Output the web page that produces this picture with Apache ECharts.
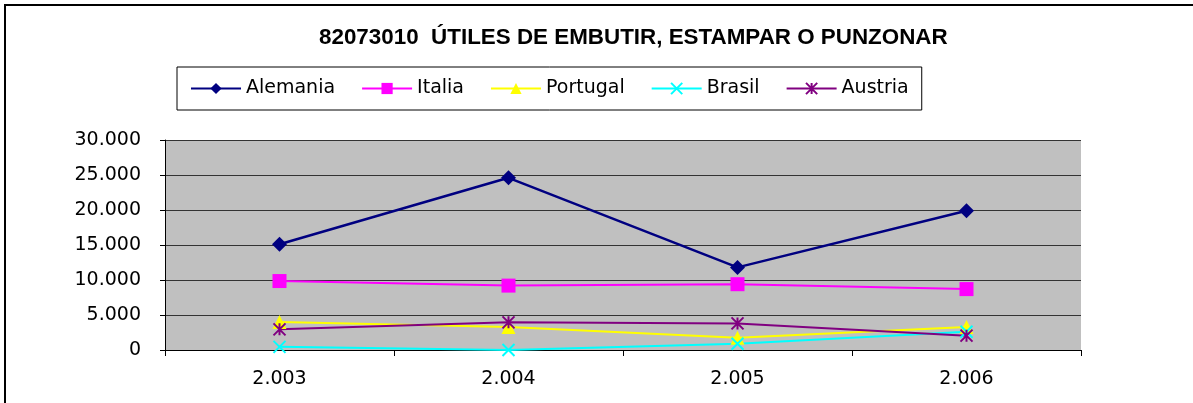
<!DOCTYPE html>
<html>
<head>
<meta charset="utf-8">
<script src="https://cdn.jsdelivr.net/npm/echarts@6/dist/echarts.min.js"></script>
<style>
  html, body { margin: 0; padding: 0; background: #fff; }
  #main { width: 1193px; height: 403px; }
</style>
</head>
<body>
<div id="main"></div>
<script>
'use strict';

// years on the x axis
const years = ['2.003', '2.004', '2.005', '2.006'];

// values
const alemania = [15100, 24600, 11800, 19900];
const italia = [9850, 9200, 9400, 8700];
const portugal = [4000, 3300, 1750, 3300];
const brasil = [450, 0, 900, 2600];
const austria = [2950, 3950, 3800, 2050];

const yTicks = [0, 5000, 10000, 15000, 20000, 25000, 30000];

const X_PATH = 'path://M0,0L10,10M10,0L0,10';
const STAR_PATH = 'path://M0,0L10,10M10,0L0,10M5,0L5,10';

function fmt(v) {
    return String(v).replace(/\B(?=(\d{3})+(?!\d))/g, '.');
}

function lineSeries(name, data, color, symbol, size, stroked, width) {
    return {
        name: name,
        type: 'line',
        data: data,
        symbol: symbol,
        symbolSize: size,
        lineStyle: { color: color, width: width },
        itemStyle: stroked
            ? { color: color, borderColor: color, borderWidth: 2 }
            : { color: color, borderWidth: 0 },
        emphasis: { disabled: true },
        animation: false
    };
}

window.onload = function () {
    let main = document.getElementById('main');
    let chart = echarts.init(main);

    let options = {
        backgroundColor: '#fff',
        title: {
            text: '82073010  ÚTILES DE EMBUTIR, ESTAMPAR O PUNZONAR',
            left: 319,
            top: 27,
            padding: 0,
            textStyle: {
                fontFamily: 'Liberation Sans',
                fontWeight: 'bold',
                fontSize: 22.4,
                color: '#000'
            }
        },
        legend: {
            left: 177,
            top: 67,
            padding: [12, 13, 12, 13],
            borderColor: '#000',
            borderWidth: 1,
            itemGap: 26,
            itemWidth: 50,
            itemHeight: 14,
            textStyle: {
                fontFamily: 'DejaVu Sans',
                fontSize: 19,
                color: '#000'
            },
            data: ['Alemania', 'Italia', 'Portugal', 'Brasil', 'Austria']
        },
        grid: {
            left: 165,
            right: 112,
            top: 140,
            bottom: 53,
            show: true,
            backgroundColor: '#c0c0c0',
            borderWidth: 0
        },
        xAxis: {
            type: 'category',
            data: years,
            boundaryGap: true,
            axisLine: { lineStyle: { color: '#000', width: 1 } },
            axisTick: { show: true, length: 6, lineStyle: { color: '#000' } },
            axisLabel: {
                margin: 20,
                fontFamily: 'DejaVu Sans',
                fontSize: 19,
                color: '#000'
            },
            splitLine: { show: false }
        },
        yAxis: {
            type: 'value',
            min: yTicks[0],
            max: yTicks[yTicks.length - 1],
            interval: 5000,
            axisLine: { show: true, lineStyle: { color: '#000', width: 1 } },
            axisTick: { show: true, length: 5, lineStyle: { color: '#000' } },
            axisLabel: {
                margin: 24,
                fontFamily: 'DejaVu Sans',
                fontSize: 19,
                color: '#000',
                formatter: fmt
            },
            splitLine: { show: true, lineStyle: { color: '#333', width: 1 } }
        },
        series: [
            lineSeries('Alemania', alemania, '#000080', 'diamond', 15, false, 2.5),
            lineSeries('Italia', italia, '#ff00ff', 'rect', 14, false, 2),
            lineSeries('Portugal', portugal, '#ffff00', 'triangle', 14, false, 2),
            lineSeries('Brasil', brasil, '#00ffff', X_PATH, 12, true, 2),
            lineSeries('Austria', austria, '#800080', STAR_PATH, 12, true, 2)
        ],
        graphic: [
            {
                type: 'line',
                shape: { x1: 5, y1: 4, x2: 5, y2: 403 },
                style: { stroke: '#000', lineWidth: 2 },
                silent: true,
                z: 100
            },
            {
                type: 'line',
                shape: { x1: 4, y1: 5, x2: 1193, y2: 5 },
                style: { stroke: '#000', lineWidth: 2 },
                silent: true,
                z: 100
            }
        ]
    };

    chart.setOption(options, true);
};
</script>
</body>
</html>
